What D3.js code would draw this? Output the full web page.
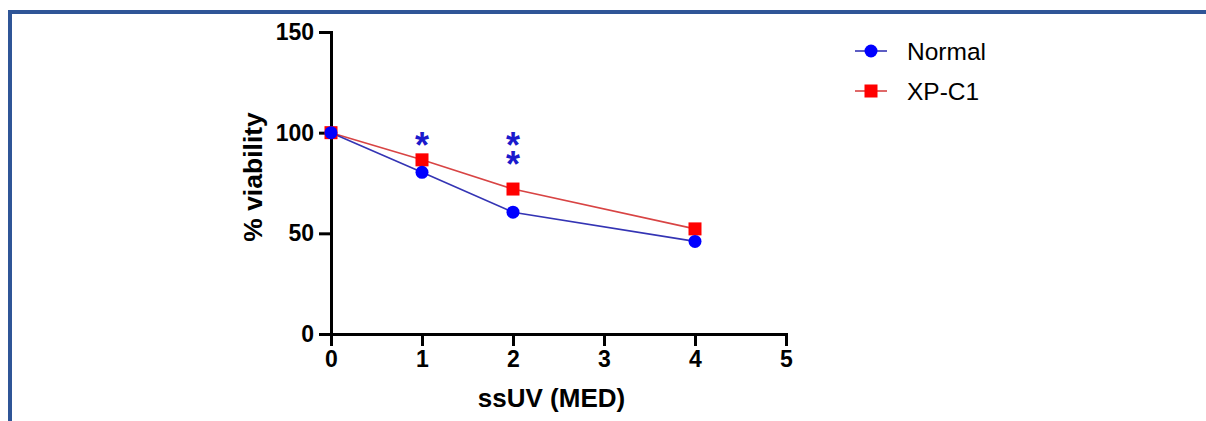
<!DOCTYPE html>
<html>
<head>
<meta charset="utf-8">
<script src="https://cdn.jsdelivr.net/npm/d3@7"></script>
<style>
  html, body { margin: 0; padding: 0; background: #fff; }
  svg { display: block; font-family: "Liberation Sans", Arial, sans-serif; }
</style>
</head>
<body>
<svg id="chart" width="1206" height="421"></svg>
<script>
// ---- data ----
const doses = [0, 1, 2, 4];
const normalValues = [100, 80.3, 60.5, 46];
const xpc1Values = [100, 86.5, 72, 52.2];
const seriesNames = ["Normal", "XP-C1"];
const xTicks = [0, 1, 2, 3, 4, 5];
const yTicks = [0, 50, 100, 150];
const sigDoses = [1, 2];
const sigLabels = [["*"], ["*", "*"]];
const xTitle = "ssUV (MED)";
const yTitle = "% viability";

// ---- layout ----
const svg = d3.select("#chart");
const x = d3.scaleLinear().domain([0, 5]).range([331, 786]);
const y = d3.scaleLinear().domain([0, 150]).range([334, 32]);

// frame border (top and left)
svg.append("rect").attr("x", 8).attr("y", 10).attr("width", 1206).attr("height", 4).attr("fill", "#2f5597");
svg.append("rect").attr("x", 8).attr("y", 10).attr("width", 4).attr("height", 421).attr("fill", "#2f5597");

// axes
const xAxis = svg.append("g").attr("transform", `translate(0,${y(0)})`)
  .call(d3.axisBottom(x).tickValues(xTicks).tickFormat(d3.format("d")).tickSize(12).tickPadding(5).tickSizeOuter(0));
const yAxis = svg.append("g").attr("transform", `translate(${x(0)},0)`)
  .call(d3.axisLeft(y).tickValues(yTicks).tickFormat(d3.format("d")).tickSize(12).tickPadding(5).tickSizeOuter(0));
[xAxis, yAxis].forEach(g => {
  g.selectAll("path.domain").attr("stroke", "#000").attr("stroke-width", 3).attr("stroke-linecap", "square");
  g.selectAll(".tick line").attr("stroke", "#000").attr("stroke-width", 3);
  g.selectAll(".tick text").attr("fill", "#000").attr("font-size", 23).attr("font-weight", "bold")
    .attr("font-family", "Liberation Sans, Arial, sans-serif");
});

// axis titles
svg.append("text").attr("x", (x(0) + x(5)) / 2 - 7).attr("y", 407).attr("text-anchor", "middle")
  .attr("font-size", 26).attr("font-weight", "bold").text(xTitle);
svg.append("text").attr("transform", `translate(262,177) rotate(-90)`).attr("text-anchor", "middle")
  .attr("font-size", 26.5).attr("font-weight", "bold").text(yTitle);

// series
const series = [
  { name: seriesNames[0], values: normalValues, line: "#3434b4", fill: "#0000ff", shape: "circle" },
  { name: seriesNames[1], values: xpc1Values, line: "#d84444", fill: "#ff0000", shape: "square" }
];
const line = d3.line().x((d, i) => x(doses[i])).y(d => y(d));

function drawMarker(g, shape, fill, cx, cy) {
  if (shape === "circle") {
    g.append("circle").attr("cx", cx).attr("cy", cy).attr("r", 6.5).attr("fill", fill);
  } else {
    g.append("rect").attr("x", cx - 6.5).attr("y", cy - 6.5).attr("width", 13).attr("height", 13).attr("fill", fill);
  }
}

[series[1], series[0]].forEach(s => {
  svg.append("path").datum(s.values).attr("d", line).attr("fill", "none")
    .attr("stroke", s.line).attr("stroke-width", 1.6);
});
[series[1], series[0]].forEach(s => {
  const g = svg.append("g");
  s.values.forEach((v, i) => drawMarker(g, s.shape, s.fill, x(doses[i]), y(v)));
});

// significance asterisks (one text per dose, stacked tspans)
const starSize = 36;
sigDoses.forEach((d, i) => {
  const t = svg.append("text").attr("text-anchor", "middle").attr("font-size", starSize)
    .attr("font-weight", "bold").attr("fill", "#1a1acc");
  sigLabels[i].forEach((lab, j) => {
    t.append("tspan").attr("x", x(d)).attr("y", 139 + j * 19 + 0.57 * starSize - 2).text(lab);
  });
});

// legend
series.forEach((s, i) => {
  const ly = 51 + i * 40;
  const g = svg.append("g");
  g.append("line").attr("x1", 855).attr("x2", 887).attr("y1", ly).attr("y2", ly)
    .attr("stroke", s.line).attr("stroke-width", 1.6);
  drawMarker(g, s.shape, s.fill, 871, ly);
  g.append("text").attr("x", 907).attr("y", ly).attr("dy", "0.35em")
    .attr("font-size", 24.5).attr("fill", "#000").text(s.name);
});
</script>
</body>
</html>
